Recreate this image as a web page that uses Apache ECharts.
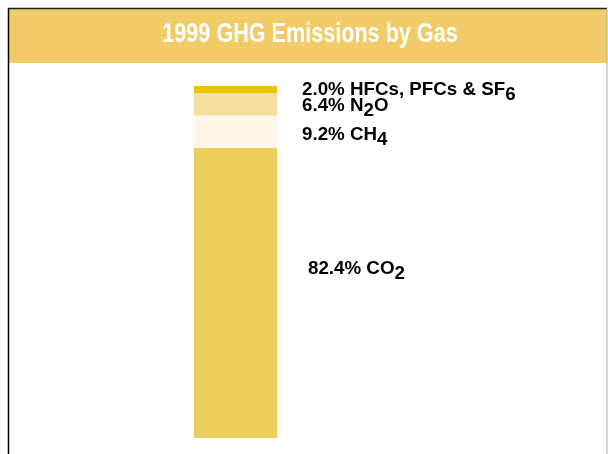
<!DOCTYPE html>
<html>
<head>
<meta charset="utf-8">
<script src="https://cdn.jsdelivr.net/npm/echarts@6/dist/echarts.min.js"></script>
<style>
  html, body { margin: 0; padding: 0; background: #fff; }
  #main { width: 608px; height: 454px; }
</style>
</head>
<body>
<div id="main"></div>
<script>
// gases, bottom of the bar first
const gases = ['CO2', 'CH4', 'N2O', 'HFCs']
const shares = [82.4, 9.2, 6.4, 2.0]
const labels = [
  '{t|82.4% CO}{s|2}',
  '{t|9.2% CH}{s|4}',
  '{t|6.4% N}{s|2}{t|O}',
  '{t|2.0% HFCs, PFCs & SF}{s|6}'
]
const colors = ['#eecf5e', '#fef7ea', '#f5df9e', '#e9c300']
const labelOffsets = [[6, -24], [0, 3], [0, 2], [0, 0]]
const titleText = '1999 GHG Emissions by Gas'

var myChart = echarts.init(document.getElementById('main'))

const rich = {
  t: { fontFamily: 'Liberation Sans, Arial', fontWeight: 'bold', fontSize: 18.75, color: '#000' },
  s: { fontFamily: 'Liberation Sans, Arial', fontWeight: 'bold', fontSize: 18.75, color: '#000', padding: [10, 0, 0, 0] }
}

myChart.setOption({
  animation: false,
  graphic: [
    { type: 'rect', z: -10, shape: { x: 9, y: 9, width: 598, height: 54 }, style: { fill: '#f1cb67' } },
    { type: 'line', shape: { x1: 8, y1: 8.5, x2: 607, y2: 8.5 }, style: { stroke: '#222', lineWidth: 1.5 } },
    { type: 'line', shape: { x1: 8.5, y1: 8, x2: 8.5, y2: 454 }, style: { stroke: '#000', lineWidth: 1.5 } },
    { type: 'line', shape: { x1: 607, y1: 9, x2: 607, y2: 454 }, style: { stroke: '#aaa', lineWidth: 1 } },
    // condensed title: squeeze a bold sans horizontally
    {
      type: 'text',
      x: 310,
      y: 35,
      scaleX: 0.8,
      style: {
        text: titleText,
        x: 0,
        y: 0,
        align: 'center',
        verticalAlign: 'middle',
        fill: '#fff',
        font: 'bold 27px "Liberation Sans", Arial'
      }
    }
  ],
  grid: { left: 194, right: 331, top: 86, bottom: 16 },
  xAxis: { type: 'category', data: ['1999'], show: false },
  yAxis: { type: 'value', min: 0, max: 100, show: false },
  series: gases.map((g, i) => ({
    name: g,
    type: 'bar',
    stack: 'total',
    barWidth: '100%',
    data: [shares[i]],
    itemStyle: { color: colors[i] },
    label: {
      show: true,
      position: 'right',
      distance: 25,
      offset: labelOffsets[i],
      formatter: labels[i],
      rich: rich
    }
  }))
})
</script>
</body>
</html>
